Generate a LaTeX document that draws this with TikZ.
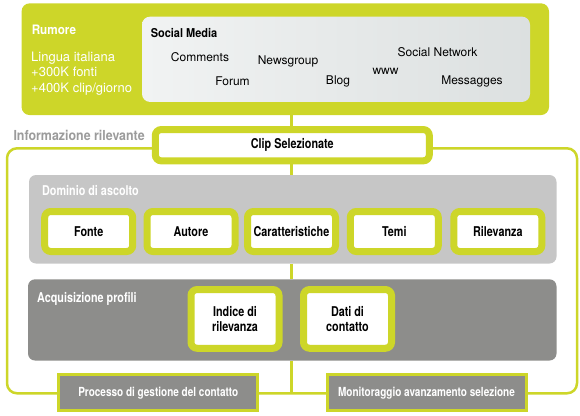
\documentclass[tikz,border=0pt]{standalone}
\usepackage{fontspec}
\setmainfont{TeX Gyre Heros}
\newfontfamily\condfont[FakeStretch=0.8]{TeX Gyre Heros}
\newfontfamily\semicondfont[FakeStretch=0.9]{TeX Gyre Heros}
\usetikzlibrary{backgrounds}
\definecolor{lime}{HTML}{CDD629}
\definecolor{paleband}{HTML}{C6C6C6}
\definecolor{darkband}{HTML}{8D8D8B}
\definecolor{titlegray}{HTML}{9B9B9B}
\definecolor{medialeft}{HTML}{F1F3F3}
\definecolor{mediaright}{HTML}{DCE0E0}
\newcommand\labelsize{\fontsize{13.5}{15.5}\selectfont}
\newcommand\wordsize{\fontsize{12}{14}\selectfont}
\tikzset{
  band/.style={rounded corners=7pt, inner sep=0pt},
  item box/.style={draw=lime, line width=7pt, fill=white, rounded corners=6pt,
    minimum width=88pt, minimum height=40pt, inner sep=0pt, align=center,
    font=\condfont\bfseries\labelsize},
  process box/.style={draw=lime, line width=3pt, fill=darkband, text=white,
    minimum width=199pt, minimum height=35.7pt, inner sep=0pt,
    font=\condfont\bfseries\fontsize{12.5}{15}\selectfont},
  band title/.style={anchor=west, inner sep=0pt, text=white,
    font=\condfont\bfseries\labelsize},
  media word/.style={inner sep=0pt, font=\wordsize},
  link/.style={lime, line width=2.5pt},
}

\begin{document}
\begin{tikzpicture}[x=1pt,y=-1pt]
  \useasboundingbox (0,0) rectangle (580,415);

  % Rumore
  \node[band, fill=lime, rounded corners=8pt, minimum width=527.4pt,
    minimum height=111.7pt] (rumore) at (285.3,59.2) {};
  \node[band title, font=\semicondfont\bfseries\fontsize{13}{15}\selectfont]
    (rumoretitle) at (31.6,30) {Rumore};
  \node[anchor=west, inner sep=0pt, text=white, align=left,
    font=\fontsize{13}{15.2}\selectfont] (rumoretext) at (31,73.5)
    {Lingua italiana\\+300K fonti\\+400K clip/giorno};

  % social media panel
  \node[band, left color=medialeft, right color=mediaright, rounded corners=8pt,
    minimum width=388pt, minimum height=85.3pt] (media) at (336,59.3) {};
  \node[anchor=west, inner sep=0pt, font=\semicondfont\bfseries\fontsize{12.2}{15}\selectfont]
    (mediatitle) at (150.6,32.7) {Social Media};
  \foreach \x/\y/\n/\t in {200/57.3/comments/Comments, 288/61.7/newsgroup/Newsgroup,
      437.5/51.7/socialnet/Social Network, 385.5/71.7/www/www,
      232.5/81.7/forum/Forum, 338/81/blog/Blog, 472/81/messagges/Messagges}
    \node[media word] (\n) at (\x,\y) {\t};

  % informazione rilevante
  \node[anchor=west, inner sep=0pt, text=titlegray,
    font=\semicondfont\bfseries\fontsize{13.8}{15}\selectfont]
    (infotitle) at (13.3,135.7) {Informazione rilevante};
  \node[item box, minimum width=274pt, minimum height=31.3pt] (clip)
    at (292.3,145.2) {Clip Selezionate};

  % dominio di ascolto
  \node[band, fill=paleband, minimum width=527.5pt, minimum height=88.5pt]
    (dominio) at (292.75,219.25) {};
  \node[band title] (dominiotitle) at (42,191) {Dominio di ascolto};
  \foreach \x/\n/\t in {88.7/fonte/Fonte, 191/autore/Autore,
      291.5/caratt/Caratteristiche, 394.3/temi/Temi, 497.8/rilev/Rilevanza}
    \node[item box] (\n) at (\x,231.5) {\t};

  % acquisizione profili
  \node[band, fill=darkband, minimum width=528.5pt, minimum height=81.2pt]
    (acquis) at (292.25,319.9) {};
  \node[band title] (acquistitle) at (37,299.3) {Acquisizione profili};
  \node[item box, minimum height=58.7pt] (indice) at (235,318.9)
    {Indice di\\rilevanza};
  \node[item box, minimum height=58.7pt] (dati) at (347.5,318.9)
    {Dati di\\contatto};

  % processi
  \node[process box] (processo) at (158.3,392.7)
    {Processo di gestione del contatto};
  \node[process box] (monitor) at (426.5,392.7)
    {Monitoraggio avanzamento selezione};

  \coordinate (fbot) at (291.5,393.3);
  \begin{scope}[on background layer]
    \draw[link, rounded corners=10pt] (7,148.3) rectangle (577,393.3);
    \draw[link] (rumore.south -| fbot) -- (clip.north -| fbot);
    \draw[link] (clip.south -| fbot) -- (dominio.north -| fbot);
    \draw[link] (dominio.south -| fbot) -- (acquis.north -| fbot);
    \draw[link] (acquis.south -| fbot) -- (fbot);
  \end{scope}
\end{tikzpicture}
\end{document}
